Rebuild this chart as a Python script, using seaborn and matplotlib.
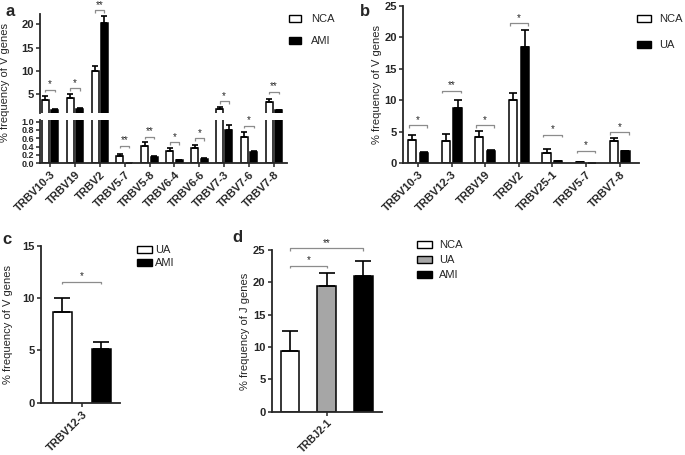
import numpy as np
import pandas as pd
import matplotlib
matplotlib.use("Agg")
import matplotlib.pyplot as plt
import seaborn as sns
from matplotlib.patches import Patch

sns.set_style("ticks")
plt.rcParams["font.family"] = ["Liberation Sans", "DejaVu Sans"]

W, H = 685, 455

# panel a: NCA vs AMI (V genes)
genes_a = ["TRBV10-3", "TRBV19", "TRBV2", "TRBV5-7", "TRBV5-8", "TRBV6-4",
           "TRBV6-6", "TRBV7-3", "TRBV7-6", "TRBV7-8"]
nca_a = [3.8, 4.2, 10.0, 0.17, 0.42, 0.29, 0.36, 1.9, 0.62, 3.4]
nca_a_err = [0.8, 0.9, 1.1, 0.06, 0.09, 0.08, 0.09, 0.3, 0.13, 0.5]
ami_a = [1.6, 1.9, 20.3, 0.01, 0.15, 0.07, 0.11, 0.81, 0.28, 1.6]
ami_a_err = [0.15, 0.15, 1.5, 0.0, 0.02, 0.01, 0.01, 0.1, 0.02, 0.1]
stars_a = ["*", "*", "**", "**", "**", "*", "*", "*", "*", "**"]
brk_a = [5.9, 6.3, 23.0, 0.42, 0.64, 0.5, 0.6, 3.5, 0.9, 5.5]

# panel b: NCA vs UA (V genes)
genes_b = ["TRBV10-3", "TRBV12-3", "TRBV19", "TRBV2", "TRBV25-1", "TRBV5-7", "TRBV7-8"]
nca_b = [3.7, 3.6, 4.2, 10.0, 1.6, 0.17, 3.6]
nca_b_err = [0.8, 1.1, 0.9, 1.1, 0.6, 0.05, 0.4]
ua_b = [1.6, 8.7, 1.9, 18.4, 0.35, 0.02, 1.9]
ua_b_err = [0.15, 1.3, 0.15, 2.7, 0.05, 0.0, 0.1]
stars_b = ["*", "**", "*", "*", "*", "*", "*"]
brk_b = [6.0, 11.5, 6.0, 22.2, 4.5, 2.0, 4.9]

# panel c: UA vs AMI
genes_c = ["TRBV12-3"]
ua_c, ua_c_err = [8.7], [1.35]
ami_c, ami_c_err = [5.1], [0.7]

# panel d: J gene
genes_d = ["TRBJ2-1"]
nca_d, nca_d_err = [9.4], [3.0]
ua_d, ua_d_err = [19.5], [1.9]
ami_d, ami_d_err = [21.0], [2.3]

WHITE, GRAY, BLACK = "white", "#a6a6a6", "black"

fig = plt.figure(figsize=(W / 100, H / 100), dpi=100)


def px_axes(l, t, r, b):
    return fig.add_axes([l / W, 1 - b / H, (r - l) / W, (b - t) / H])


def long_df(genes, groups):
    rows = []
    for name, vals in groups:
        for g, v in zip(genes, vals):
            rows.append((g, name, v))
    return pd.DataFrame(rows, columns=["gene", "group", "value"])


def bars(ax, genes, groups, colors, width, gap, errs, capsize, ymin=None):
    df = long_df(genes, groups)
    names = [n for n, _ in groups]
    sns.barplot(data=df, x="gene", y="value", hue="group", hue_order=names,
                palette=dict(zip(names, colors)), edgecolor="black", linewidth=1.1,
                width=width, gap=gap, errorbar=None, legend=False, saturation=1, ax=ax)
    centers = []
    for cont, (_, vals), err in zip(ax.containers, groups, errs):
        xs = np.array([p.get_x() + p.get_width() / 2 for p in cont])
        centers.append(xs)
        vals, err = np.array(vals), np.array(err)
        keep = np.ones(len(vals), bool) if ymin is None else vals > ymin
        ax.errorbar(xs[keep], vals[keep], yerr=[np.zeros(keep.sum()), err[keep]],
                    fmt="none", ecolor="black", elinewidth=1.2, capsize=capsize,
                    capthick=1.2)
    return centers


def style(ax, xlabels=True, ysize=8):
    sns.despine(ax=ax)
    for s in ["left", "bottom"]:
        ax.spines[s].set_linewidth(1.3)
    ax.tick_params(width=1.1, length=3, labelsize=8, pad=1.5)
    ax.tick_params(axis="y", labelsize=ysize)
    ax.set_xlabel("")
    ax.set_ylabel("")
    for lbl in ax.get_yticklabels():
        lbl.set_fontweight("bold")
    if xlabels:
        for lbl in ax.get_xticklabels():
            lbl.set_fontweight("bold")
            lbl.set_rotation(45)
            lbl.set_ha("right")
            lbl.set_rotation_mode("anchor")


def bracket(ax, x1, x2, y, star):
    y0, y1 = ax.get_ylim()
    h = (y1 - y0) * 2.5 / (ax.get_position().height * H)
    ax.plot([x1, x1, x2, x2], [y - h, y, y, y - h], color="#8c8c8c", lw=0.9,
            clip_on=False, solid_capstyle="butt")
    ax.annotate(star, ((x1 + x2) / 2, y), xytext=(0, 0.3), textcoords="offset points",
                ha="center", va="bottom", fontsize=7, annotation_clip=False)


def legend(labels, colors, x, y, spacing, pad, hlen):
    handles = [Patch(facecolor=c, edgecolor="black", linewidth=1.0, label=l)
               for l, c in zip(labels, colors)]
    fig.legend(handles=handles, loc="upper left", bbox_to_anchor=(x / W, 1 - y / H),
               frameon=False, fontsize=8, handlelength=hlen, handleheight=0.6,
               handletextpad=pad, labelspacing=spacing, borderpad=0, borderaxespad=0)


# ---- panel a (broken y axis) ----
ax_top = px_axes(40, 14, 287, 113)
ax_bot = px_axes(40, 120, 287, 163.3)
groups_a = [("NCA", nca_a), ("AMI", ami_a)]
cen_a = bars(ax_top, genes_a, groups_a, [WHITE, BLACK], 0.75, 0.25,
             [nca_a_err, ami_a_err], 2.2, ymin=1.0)
bars(ax_bot, genes_a, groups_a, [WHITE, BLACK], 0.75, 0.25,
     [nca_a_err, ami_a_err], 2.2)
for ax in (ax_top, ax_bot):
    ax.set_xlim(-0.4, 9.52)
ax_top.set_ylim(0.96, 22.2)
ax_top.set_yticks([5, 10, 15, 20])
ax_bot.set_ylim(0, 1.04)
ax_bot.set_yticks([0, 0.2, 0.4, 0.6, 0.8, 1.0])
ax_bot.set_yticklabels(["0.0", "0.2", "0.4", "0.6", "0.8", "1.0"])
style(ax_top, xlabels=False)
ax_top.spines["bottom"].set_visible(False)
ax_top.tick_params(axis="x", bottom=False, labelbottom=False)
style(ax_bot, ysize=6.5)
ax_bot.tick_params(axis="y", pad=1)
for i, (y, s) in enumerate(zip(brk_a, stars_a)):
    ax = ax_top if y > 1.2 else ax_bot
    bracket(ax, cen_a[0][i], cen_a[1][i], y, s)
legend(["NCA", "AMI"], [WHITE, BLACK], 289, 14, 1.1, 0.9, 1.1)
fig.text(5 / W, 1 - 82 / H, "% frequency of V genes", rotation=90, ha="center",
         va="center", fontsize=8)

# ---- panel b ----
ax_b = px_axes(403, 5.7, 639, 163.3)
cen_b = bars(ax_b, genes_b, [("NCA", nca_b), ("UA", ua_b)], [WHITE, BLACK], 0.7, 0.3,
             [nca_b_err, ua_b_err], 2.9)
ax_b.set_xlim(-0.45, 6.58)
ax_b.set_ylim(0, 25)
ax_b.set_yticks([0, 5, 10, 15, 20, 25])
style(ax_b)
for i, (y, s) in enumerate(zip(brk_b, stars_b)):
    bracket(ax_b, cen_b[0][i] - 0.1, cen_b[1][i] + 0.1, y, s)
legend(["NCA", "UA"], [WHITE, BLACK], 637, 14, 1.45, 0.7, 1.26)
fig.text(377 / W, 1 - 84 / H, "% frequency of V genes", rotation=90, ha="center",
         va="center", fontsize=8)

# ---- panel c ----
ax_c = px_axes(40.7, 246, 120, 402.7)
cen_c = bars(ax_c, genes_c, [("UA", ua_c), ("AMI", ami_c)], [WHITE, BLACK], 0.8, 0.52,
             [ua_c_err, ami_c_err], 6)
ax_c.set_xlim(-0.42, 0.39)
ax_c.set_ylim(0, 15)
ax_c.set_yticks([0, 5, 10, 15])
style(ax_c)
bracket(ax_c, cen_c[0][0], cen_c[1][0], 11.6, "*")
legend(["UA", "AMI"], [WHITE, BLACK], 137, 245, 0.3, 0.3, 1.35)
fig.text(8 / W, 1 - 324 / H, "% frequency of V genes", rotation=90, ha="center",
         va="center", fontsize=8)

# ---- panel d ----
ax_d = px_axes(271.7, 250, 381.7, 411.7)
cen_d = bars(ax_d, genes_d, [("NCA", nca_d), ("UA", ua_d), ("AMI", ami_d)],
             [WHITE, GRAY, BLACK], 0.8, 0.49, [nca_d_err, ua_d_err, ami_d_err], 6)
ax_d.set_xlim(-0.4, 0.4)
ax_d.set_ylim(0, 25)
ax_d.set_yticks([0, 5, 10, 15, 20, 25])
style(ax_d)
ax_d.tick_params(axis="x", labelsize=7.5)
bracket(ax_d, cen_d[0][0], cen_d[1][0], 22.6, "*")
bracket(ax_d, cen_d[0][0], cen_d[2][0], 25.3, "**")
legend(["NCA", "UA", "AMI"], [WHITE, GRAY, BLACK], 417, 240, 0.45, 0.6, 1.35)
fig.text(245 / W, 1 - 331 / H, "% frequency of J genes", rotation=90, ha="center",
         va="center", fontsize=8)

# panel letters
for lab, x, y in [("a", 10, 12), ("b", 365, 12), ("c", 7, 240), ("d", 237, 238)]:
    fig.text(x / W, 1 - y / H, lab, fontsize=12, fontweight="bold", ha="center", va="center")

fig.savefig("out.png", dpi=100)
